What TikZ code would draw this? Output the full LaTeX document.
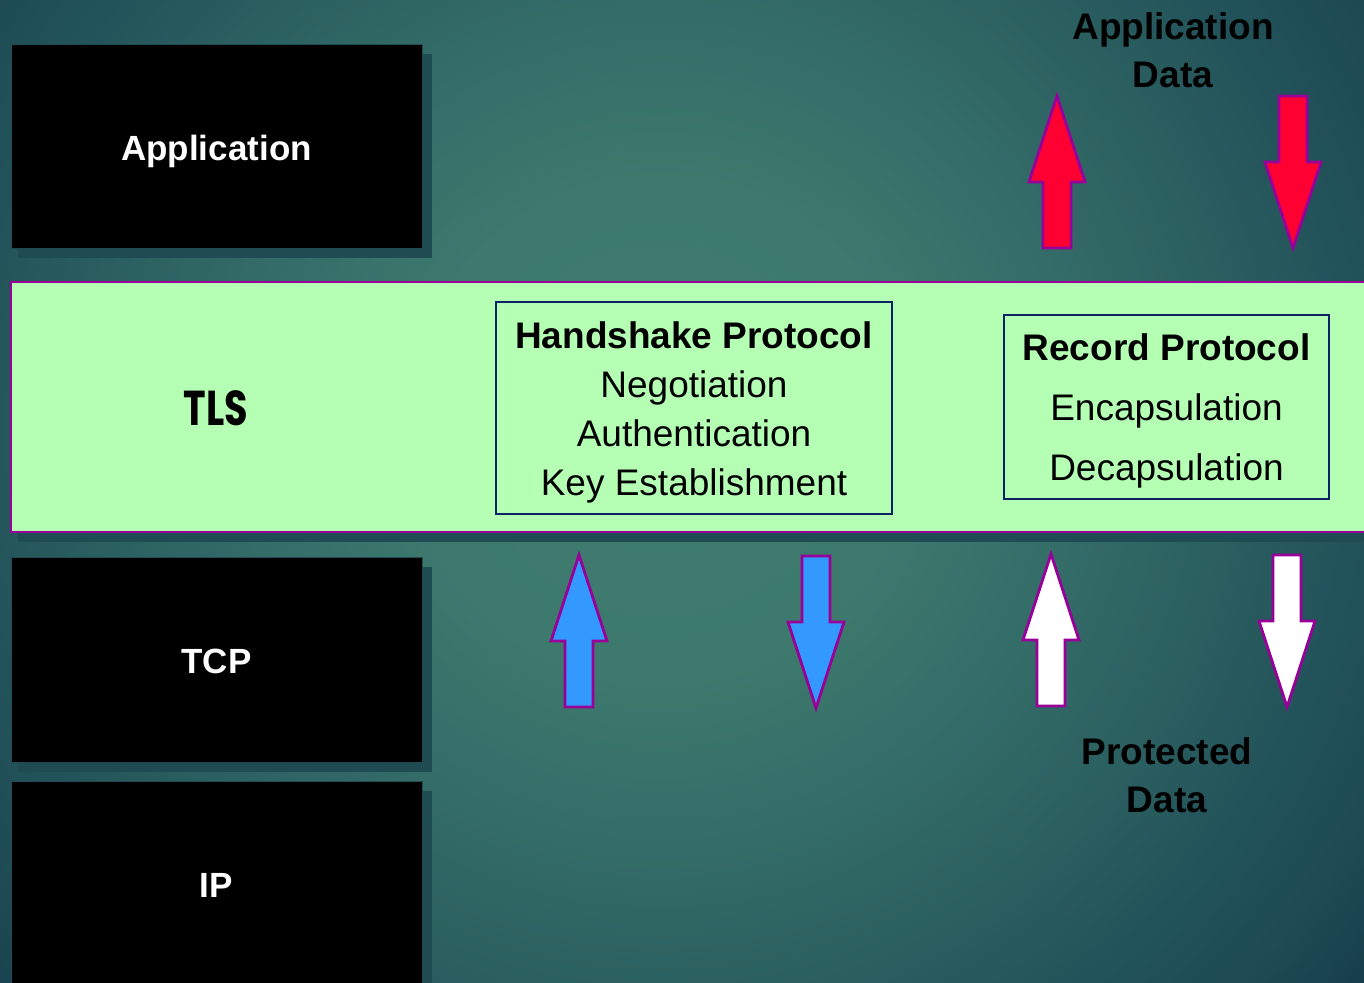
\documentclass[tikz,border=0pt]{standalone}
\usepackage{fontspec}
\setmainfont{Liberation Sans}
\newfontfamily\tlsfont{Poppins}
\usetikzlibrary{positioning}

\definecolor{bga}{HTML}{3F7D70}
\definecolor{bgb}{HTML}{3D796D}
\definecolor{bgc}{HTML}{346C68}
\definecolor{bgd}{HTML}{2A5E5F}
\definecolor{bge}{HTML}{22525A}
\definecolor{bgf}{HTML}{1E4B54}
\definecolor{bgg}{HTML}{173F4B}
\definecolor{bgh}{HTML}{153B48}
\definecolor{shadowteal}{HTML}{1F4C53}
\definecolor{tlsgreen}{HTML}{B4FFB4}
\definecolor{plum}{HTML}{990099}
\definecolor{navy}{HTML}{0D2262}
\definecolor{datared}{HTML}{FF0033}
\definecolor{hsblue}{HTML}{3399FF}

% glow of the slide background; 25bp reaches the rim of the shaded disc
\pgfdeclareradialshading{slidebg}{\pgfpoint{0bp}{0bp}}{%
  color(0bp)=(bga); color(6.25bp)=(bgb); color(10.5bp)=(bgc); color(14.5bp)=(bgd);
  color(17.5bp)=(bge); color(20bp)=(bgf); color(22.25bp)=(bgg); color(25bp)=(bgh);
  color(50bp)=(bgh)}

\tikzset{
  layer/.style={fill=black, draw=shadowteal, line width=0.4pt},
  layershadow/.style={fill=shadowteal},
  layertext/.style={text=white, font=\bfseries\fontsize{17.5}{21}\selectfont},
  protobox/.style={draw=navy, line width=1.2pt, fill=tlsgreen, align=center, inner sep=0pt},
  datalabel/.style={align=center, font=\bfseries\fontsize{18.5}{24}\selectfont},
  blockarrow/.style={draw=plum, line width=1.4pt, line join=miter}
}

% block arrows: #1 centre x, #2 tip (up) or top (down) y, #3 fill colour
\newcommand\uparrowshape[3]{%
  \draw[blockarrow, fill=#3] (#1,#2) -- (#1+28,#2+86) -- (#1+14,#2+86) -- (#1+14,#2+152)
    -- (#1-14,#2+152) -- (#1-14,#2+86) -- (#1-28,#2+86) -- cycle;}
\newcommand\downarrowshape[3]{%
  \draw[blockarrow, fill=#3] (#1-14,#2) -- (#1+14,#2) -- (#1+14,#2+66) -- (#1+28,#2+66)
    -- (#1,#2+152) -- (#1-28,#2+66) -- (#1-14,#2+66) -- cycle;}

\begin{document}
\begin{tikzpicture}[x=0.5pt, y=-0.5pt]
  % background
  \useasboundingbox (0,0) rectangle (1364,983);
  \begin{scope}
    \clip (0,0) rectangle (1364,983);
    \shade[shading=slidebg] (660,430) circle[radius=1000];
  \end{scope}

  % stack layers with their drop shadows
  \fill[layershadow] (18,54) rectangle (432,258);
  \fill[layershadow] (18,292) rectangle (1380,542);
  \fill[layershadow] (18,567) rectangle (432,772);
  \fill[layershadow] (18,791) rectangle (432,1000);

  \draw[layer] (11,44) rectangle (422,248);
  \node[layertext] (app) at (216.5,151) {Application};

  \draw[fill=tlsgreen, draw=plum, line width=1.3pt] (11,282) rectangle (1380,532);
  \node (tls) at (216,408) {\scalebox{0.78}[1]{\tlsfont\bfseries\fontsize{24.5}{28}\selectfont TLS}};

  \draw[layer] (11,557) rectangle (422,762);
  \node[layertext] (tcp) at (216.5,661) {TCP};

  \draw[layer] (11,781) rectangle (422,1000);
  \node[layertext] (ip) at (216.5,885) {IP};

  % TLS sub-protocols
  \node[protobox, minimum width=198pt, minimum height=106pt] (hs) at (694,408) {};
  \node[align=center, font=\fontsize{18.5}{24.5}\selectfont] (hstext) at (694,412)
    {\textbf{Handshake Protocol}\\Negotiation\\Authentication\\Key Establishment};
  \node[protobox, minimum width=162.5pt, minimum height=92pt] (rec) at (1166.5,407) {};
  \node[align=center, font=\fontsize{18.5}{30}\selectfont] (rectext) at (1166.5,411)
    {\textbf{Record Protocol}\\Encapsulation\\Decapsulation};

  % data labels
  \node[datalabel] (appdata) at (1173,50) {Application\\Data};
  \node[datalabel] (protdata) at (1167,775) {Protected\\Data};

  % data flow arrows
  \uparrowshape{1057}{96}{datared}
  \downarrowshape{1293}{96}{datared}
  \uparrowshape{579}{555}{hsblue}
  \downarrowshape{816}{556}{hsblue}
  \uparrowshape{1051}{554}{white}
  \downarrowshape{1287}{555}{white}
\end{tikzpicture}
\end{document}
